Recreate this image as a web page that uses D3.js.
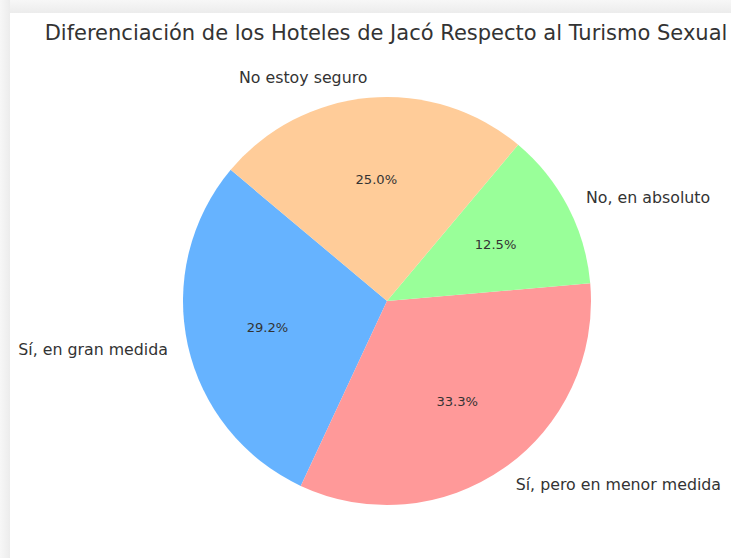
<!DOCTYPE html>
<html>
<head>
<meta charset="utf-8">
<script src="https://cdn.jsdelivr.net/npm/d3@7"></script>
<style>
  body { margin: 0; background: #fff; }
  svg { display: block; font-family: "DejaVu Sans", sans-serif; }
</style>
</head>
<body>
<div id="chart"></div>
<script>
// survey answers, counts out of 24
var labels = ["Sí, en gran medida", "Sí, pero en menor medida", "No, en absoluto", "No estoy seguro"];
var counts = [7, 8, 3, 6];
var colors = ["#66b3ff", "#ff9999", "#99ff99", "#ffcc99"];

var W = 731, H = 558;
var cx = 387, cy = 301, r = 204;
var startAngle = 140; // degrees, matplotlib style (ccw from 3 o'clock)

var svg = d3.select("#chart").append("svg")
  .attr("width", W).attr("height", H);

// grey frame at top/left, like the screenshot border
var defs = svg.append("defs");
var gTop = defs.append("linearGradient").attr("id", "gtop").attr("x1", 0).attr("y1", 0).attr("x2", 0).attr("y2", 1);
gTop.append("stop").attr("offset", "0%").attr("stop-color", "#f7f7f7");
gTop.append("stop").attr("offset", "100%").attr("stop-color", "#ececec");
var gLeft = defs.append("linearGradient").attr("id", "gleft").attr("x1", 0).attr("y1", 0).attr("x2", 1).attr("y2", 0);
gLeft.append("stop").attr("offset", "0%").attr("stop-color", "#f7f7f7");
gLeft.append("stop").attr("offset", "100%").attr("stop-color", "#ececec");
svg.append("rect").attr("x", 0).attr("y", 0).attr("width", W).attr("height", 13).attr("fill", "url(#gtop)");
svg.append("rect").attr("x", 0).attr("y", 0).attr("width", 10).attr("height", H).attr("fill", "url(#gleft)");

svg.append("text")
  .attr("x", 386).attr("y", 40)
  .attr("text-anchor", "middle")
  .attr("font-size", "21px")
  .attr("fill", "#333")
  .text("Diferenciación de los Hoteles de Jacó Respecto al Turismo Sexual");

// d3 angles are clockwise from 12 o'clock; matplotlib goes ccw from 3 o'clock
var s0 = (90 - startAngle) * Math.PI / 180;
var pie = d3.pie().sort(null).value(function (d) { return d; })
  .startAngle(s0).endAngle(s0 - 2 * Math.PI);
var arcs = pie(counts);
var total = d3.sum(counts);

var arc = d3.arc().innerRadius(0).outerRadius(r);
var g = svg.append("g").attr("transform", "translate(" + cx + "," + cy + ")");

g.selectAll("path").data(arcs).enter().append("path")
  .attr("d", arc)
  .attr("fill", function (d, i) { return colors[i]; });

function mid(d) { return (d.startAngle + d.endAngle) / 2; }

g.selectAll("text.lbl").data(arcs).enter().append("text")
  .attr("class", "lbl")
  .attr("x", function (d) { return 1.1 * r * Math.sin(mid(d)); })
  .attr("y", function (d) { return -1.1 * r * Math.cos(mid(d)); })
  .attr("dy", "0.35em")
  .attr("text-anchor", function (d) { return Math.sin(mid(d)) < 0 ? "end" : "start"; })
  .attr("font-size", "15.8px")
  .attr("fill", "#333")
  .text(function (d, i) { return labels[i]; });

g.selectAll("text.pct").data(arcs).enter().append("text")
  .attr("class", "pct")
  .attr("x", function (d) { return 0.6 * r * Math.sin(mid(d)); })
  .attr("y", function (d) { return -0.6 * r * Math.cos(mid(d)); })
  .attr("dy", "0.35em")
  .attr("text-anchor", "middle")
  .attr("font-size", "13.1px")
  .attr("fill", "#333")
  .text(function (d) { return (d.value / total * 100).toFixed(1) + "%"; });
</script>
</body>
</html>
